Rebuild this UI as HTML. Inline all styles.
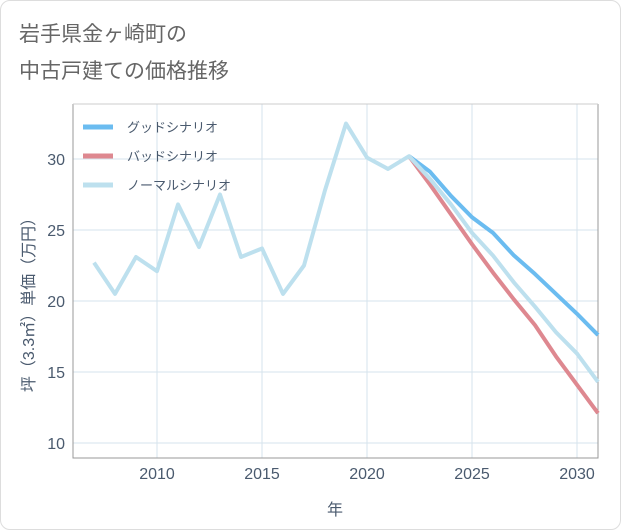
<!DOCTYPE html>
<html><head><meta charset="utf-8"><style>
body{margin:0;background:#fff;font-family:"Liberation Sans","Noto Sans CJK JP",sans-serif;}
#wrap{position:relative;width:619px;height:528px;border:1px solid #ddd;border-radius:10px;overflow:hidden;}
</style></head><body>
<div id="wrap">
<svg id="chart" width="621" height="530"></svg>
</div>
<script>
const years=[2007,2008,2009,2010,2011,2012,2013,2014,2015,2016,2017,2018,2019,2020,2021,2022,2023,2024,2025,2026,2027,2028,2029,2030,2031];
const normalValues=[22.7,20.5,23.1,22.1,26.8,23.8,27.5,23.1,23.7,20.5,22.5,27.8,32.5,30.1,29.3,30.2,28.6,26.8,24.8,23.2,21.3,19.6,17.8,16.3,14.3];
const goodYears=[2022,2023,2024,2025,2026,2027,2028,2029,2030,2031];
const goodValues=[30.2,29.1,27.4,25.9,24.8,23.2,21.9,20.5,19.1,17.6];
const badValues=[30.2,28.2,26.1,24.0,22.0,20.1,18.3,16.1,14.1,12.1];
const xTicks=[2010,2015,2020,2025,2030];
const yTicks=[10,15,20,25,30];
const legendLabels=["グッドシナリオ","バッドシナリオ","ノーマルシナリオ"];
const legendColors=["#6bbcf0","#de8890","#bde0ee"];

const NS="http://www.w3.org/2000/svg";
const svg=document.getElementById('chart');
const L=72,R=597,T=103,B=457;
const x=v=>L+(v-2007)*(576-93)/23+21;
const xs=v=>93+(v-2007)*21;
const y=v=>442-(v-10)*14.2;
function el(tag,attrs,parent){const e=document.createElementNS(NS,tag);for(const k in attrs)e.setAttribute(k,attrs[k]);(parent||svg).appendChild(e);return e;}
function txt(s,attrs){const e=el('text',attrs);e.textContent=s;return e;}

let t1=txt("岩手県金ヶ崎町の",{x:18,y:40,'font-size':21,fill:'#666'});

let t2=txt("中古戸建ての価格推移",{x:18,y:77,'font-size':21,fill:'#666'});


xTicks.forEach(v=>{
  const g=el('line',{x1:xs(v),x2:xs(v),y1:T,y2:B,stroke:'#d5e3ec','stroke-width':1});
  
  const l=txt(String(v),{x:xs(v),y:478,'font-size':16,fill:'#4a5a6e','text-anchor':'middle'});
  
});
yTicks.forEach(v=>{
  const g=el('line',{x1:L,x2:R,y1:y(v),y2:y(v),stroke:'#d5e3ec','stroke-width':1});
  
  const l=txt(String(v),{x:64,y:y(v)+6,'font-size':16,fill:'#4a5a6e','text-anchor':'end'});
  
});
const frame=el('path',{d:`M${L},${T}V${B}H${R}V${T}`,fill:'none',stroke:'#999','stroke-width':1});

const topl=el('line',{x1:L,x2:R,y1:T,y2:T,stroke:'#ccc','stroke-width':1});


function series(xv,yv,color,name){
  const d=xv.map((v,i)=>(i?'L':'M')+xs(v)+','+y(yv[i])).join('');
  const p=el('path',{d,fill:'none',stroke:color,'stroke-width':4,'stroke-linejoin':'round'});
  
}
series(goodYears,goodValues,legendColors[0],'good-scenario-line');
series(goodYears,badValues,legendColors[1],'bad-scenario-line');
series(years,normalValues,legendColors[2],'normal-scenario-line');

legendLabels.forEach((s,i)=>{
  const yy=126+i*29;
  const ln=el('line',{x1:82,x2:112,y1:yy,y2:yy,stroke:legendColors[i],'stroke-width':5});
  
  const t=txt(s,{x:126,y:yy+5,'font-size':13,fill:'#4a5a6e'});
  
});

const xt=txt("年",{x:334,y:514,'font-size':16,fill:'#4a5a6e','text-anchor':'middle'});

const yt=txt("坪（3.3㎡）単価（万円）",{x:0,y:0,'font-size':16,fill:'#4a5a6e','text-anchor':'middle',transform:'translate(33,300) rotate(-90)'});

</script>
</body></html>
